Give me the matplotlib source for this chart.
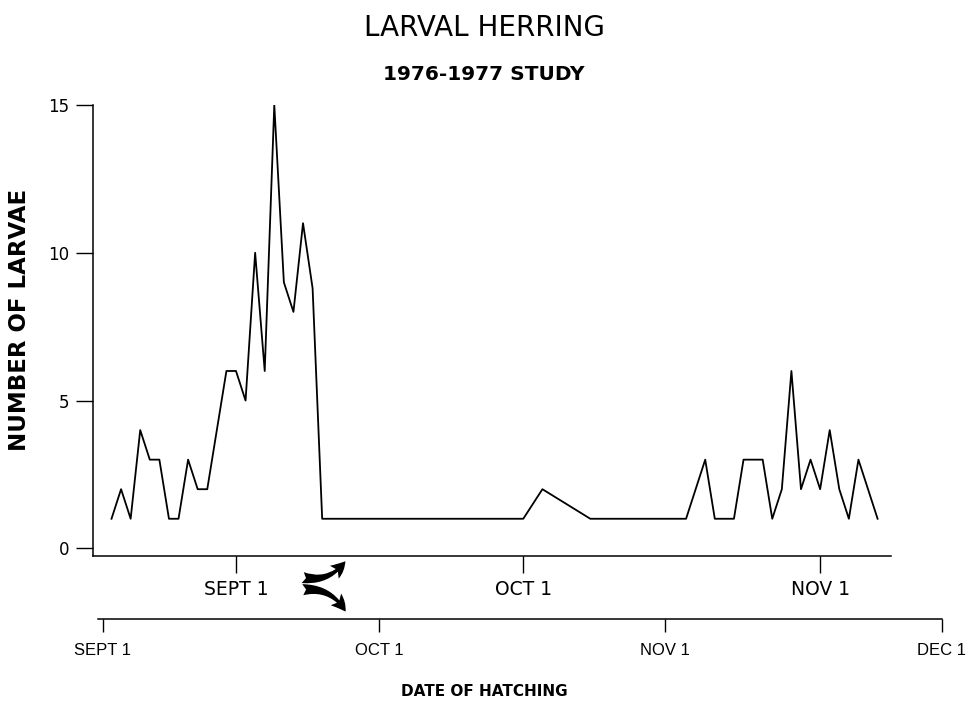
import pandas as pd
import matplotlib
matplotlib.use("Agg")
import matplotlib.pyplot as plt
from matplotlib.patches import FancyArrowPatch

# Larval herring counts per sampling date
dates = ["1976-08-19", "1976-08-20", "1976-08-21", "1976-08-22", "1976-08-23",
         "1976-08-24", "1976-08-25", "1976-08-26", "1976-08-27", "1976-08-28",
         "1976-08-29", "1976-08-31", "1976-09-01", "1976-09-02", "1976-09-03",
         "1976-09-04", "1976-09-05", "1976-09-06", "1976-09-07", "1976-09-08",
         "1976-09-09", "1976-09-10", "1976-10-01", "1976-10-03", "1976-10-08",
         "1976-10-18", "1976-10-20", "1976-10-21", "1976-10-23", "1976-10-24",
         "1976-10-26", "1976-10-27", "1976-10-28", "1976-10-29", "1976-10-30",
         "1976-10-31", "1976-11-01", "1976-11-02", "1976-11-03", "1976-11-04",
         "1976-11-05", "1976-11-07"]
larvae = [1, 2, 1, 4, 3,
          3, 1, 1, 3, 2,
          2, 6, 6, 5, 10,
          6, 15, 9, 8, 11,
          8.8, 1, 1, 2, 1,
          1, 3, 1, 1, 3,
          3, 1, 2, 6, 2,
          3, 2, 4, 2, 1,
          3, 1]

# upper axis ticks (sampling date) and lower axis ticks (hatching date)
top_ticks = ["1976-09-01", "1976-10-01", "1976-11-01"]
top_labels = ["SEPT 1", "OCT 1", "NOV 1"]
hatch_ticks = ["1976-09-01", "1976-10-01", "1976-11-01", "1976-12-01"]
hatch_labels = ["SEPT 1", "OCT 1", "NOV 1", "DEC 1"]
y_ticks = [0, 5, 10, 15]

x = pd.to_datetime(dates)
sep1 = pd.Timestamp("1976-09-01")

W, H = 970, 709
fig = plt.figure(figsize=(W / 100, H / 100), dpi=100)

# main plot
ax = fig.add_axes([93.3 / W, 1 - 556 / H, (891 - 93.3) / W, (556 - 105) / H])
ax.plot(x, larvae, color="black", lw=1.3)
ax.set_xlim(sep1 - pd.Timedelta(days=14.9), sep1 + pd.Timedelta(days=68.4))
ax.set_ylim(-0.26, 15)
for s in ["top", "right"]:
    ax.spines[s].set_visible(False)
for s in ["left", "bottom"]:
    ax.spines[s].set_linewidth(1.1)
ax.set_yticks(y_ticks)
ax.set_yticklabels([str(v) for v in y_ticks], fontsize=12, family="DejaVu Sans")
ax.set_xticks(pd.to_datetime(top_ticks))
ax.set_xticklabels(top_labels, fontsize=13.5, family="DejaVu Sans")
ax.tick_params(axis="y", length=12, width=1, pad=5)
ax.tick_params(axis="x", length=12, width=1, pad=5)

# hatching-date axis underneath
ax2 = fig.add_axes([98 / W, 1 - 618.5 / H, (941.7 - 98) / W, 0.001])
ax2.set_xlim(sep1 - pd.Timedelta(days=0.54), pd.Timestamp("1976-12-01"))
ax2.set_yticks([])
for s in ["top", "right", "left"]:
    ax2.spines[s].set_visible(False)
ax2.spines["bottom"].set_linewidth(1.1)
ax2.set_xticks(pd.to_datetime(hatch_ticks))
ax2.set_xticklabels(hatch_labels, fontsize=12, family="Liberation Sans")
ax2.tick_params(axis="x", length=9.5, width=1, pad=8)

# titles
fig.text(484 / W, 1 - 28 / H, "LARVAL HERRING", ha="center", va="center",
         fontsize=20, family="DejaVu Sans")
fig.text(484 / W, 1 - 75 / H, "1976-1977 STUDY", ha="center", va="center",
         fontsize=14.5, fontweight="bold", family="DejaVu Sans")
fig.text(20 / W, 1 - 320 / H, "NUMBER OF LARVAE", ha="center", va="center",
         rotation=90, fontsize=16.5, fontweight="bold", family="DejaVu Sans")
fig.text(484 / W, 1 - 692 / H, "DATE OF HATCHING", ha="center", va="center",
         fontsize=11, fontweight="bold", family="DejaVu Sans")

# curved arrows linking the two date scales
for (x0, y0), (x1, y1), rad in [((300, 577), (347, 559), 0.35),
                                ((300, 590), (347, 614), -0.35)]:
    arr = FancyArrowPatch((x0 / W, 1 - y0 / H), (x1 / W, 1 - y1 / H),
                          transform=fig.transFigure,
                          connectionstyle="arc3,rad=%s" % rad,
                          arrowstyle="fancy,head_length=0.7,head_width=0.7,tail_width=0.5",
                          mutation_scale=16, color="black", lw=0)
    fig.patches.append(arr)

fig.savefig("out.png", dpi=100)
